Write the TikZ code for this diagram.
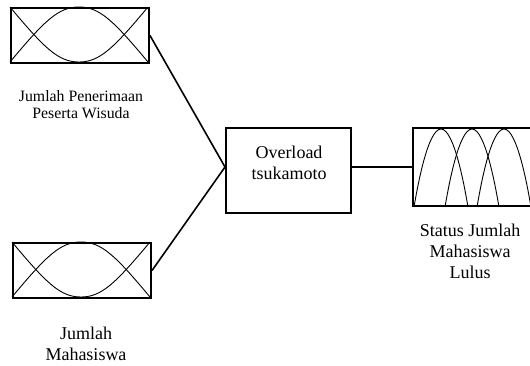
\documentclass[tikz,border=0pt]{standalone}
\usepackage{fontspec}
\setmainfont{Liberation Serif}
\begin{document}
\begin{tikzpicture}[x=1pt,y=-1pt,
    boite/.style={draw,line width=2pt,minimum width=138pt,minimum height=55pt,inner sep=0pt},
    courbe/.style={line width=0.9pt},
    lien/.style={line width=1.6pt},
    etiq/.style={align=center,font=\fontsize{18}{21}\selectfont}]
    \useasboundingbox (0,0) rectangle (530,365);

    % Entrées
    \node[boite] (in1) at (80,35.5) {};
    \node[boite] (in2) at (82,270.5) {};
    \foreach \b in {in1,in2}{
      \begin{scope}[shift={(\b.north west)},x=138pt,y=-55pt]
        \draw[courbe] (0,0) .. controls (0.25,0.75) and (0.35,1) .. (0.5,1)
                            .. controls (0.65,1) and (0.75,0.75) .. (1,0);
        \draw[courbe] (0,1) .. controls (0.25,0.25) and (0.35,0) .. (0.5,0)
                            .. controls (0.65,0) and (0.75,0.25) .. (1,1);
      \end{scope}
    }
    \node[etiq,font=\fontsize{15.8}{17}\selectfont] (lab1) at (81,104.5) {Jumlah Penerimaan\\Peserta Wisuda};
    \node[etiq] (lab2) at (86,344) {Jumlah\\Mahasiswa};

    % Inférence
    \node[boite,minimum width=125pt,minimum height=85pt] (mid) at (288.5,170.5) {};
    \node[etiq] (midtxt) at (289,163) {Overload\\tsukamoto};

    % Sortie
    \node[boite,minimum width=127pt,minimum height=78pt] (out) at (476.5,167) {};
    \begin{scope}[shift={(out.south west)}]
      \foreach \p in {29,60,92}
        \draw[courbe] (\p-27,0) parabola bend (\p,-78) (\p+27,0);
    \end{scope}
    \node[etiq] (lab3) at (470,251) {Status Jumlah\\Mahasiswa\\Lulus};

    % Liens
    \coordinate (jonction) at (mid.west |- out.west);
    \draw[lien] (in1.east) -- (jonction);
    \draw[lien] (in2.east) -- (jonction);
    \draw[lien] (out.west -| mid.east) -- (out.west);
\end{tikzpicture}
\end{document}
